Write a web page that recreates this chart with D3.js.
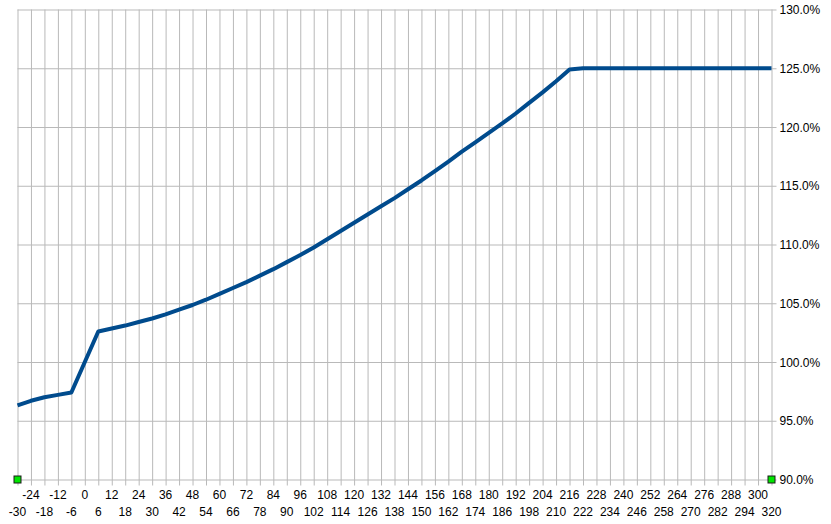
<!DOCTYPE html>
<html>
<head>
<meta charset="utf-8">
<script src="https://cdn.jsdelivr.net/npm/d3@7"></script>
<style>
  html, body { margin: 0; padding: 0; background: #ffffff; }
  svg { display: block; }
  text { font-family: "Liberation Sans", Arial, sans-serif; font-size: 12px; fill: #000; }
</style>
</head>
<body>
<svg id="chart" width="831" height="524"></svg>
<script>
// ---- data ----
const categories = [-30,-24,-18,-12,-6,0,6,12,18,24,30,36,42,48,54,60,66,72,78,84,90,96,102,108,114,120,126,132,138,144,150,156,162,168,174,180,186,192,198,204,210,216,222,228,234,240,246,252,258,264,270,276,282,288,294,300,320];
const seriesValues = [96.3,96.7,97.0,97.2,97.4,100.0,102.6,102.85,103.1,103.4,103.7,104.05,104.45,104.85,105.3,105.8,106.3,106.8,107.35,107.9,108.5,109.1,109.75,110.45,111.15,111.85,112.55,113.25,113.95,114.7,115.45,116.25,117.05,117.9,118.7,119.5,120.3,121.15,122.05,122.95,123.9,124.9,125,125,125,125,125,125,125,125,125,125,125,125,125,125,125];
const markerCategories = [-30, 320];
const markerValues = [90, 90];
const yTicks = [90,95,100,105,110,115,120,125,130];

// ---- layout ----
const svg = d3.select("#chart");
const mLeft = 17.5, mRight = 771.5, mTop = 9.5, mBottom = 479.5;

const x = d3.scalePoint().domain(categories.map(String)).range([mLeft, mRight]);
const y = d3.scaleLinear().domain([90, 130]).range([mBottom, mTop]);

const gridColor = "#b9b9b9";

// vertical grid lines + ticks below
const xAxis = d3.axisBottom(x)
  .tickSize(-(mBottom - mTop))
  .tickFormat(() => "");
const gx = svg.append("g").attr("transform", `translate(0,${mBottom})`).call(xAxis);
gx.select(".domain").remove();
gx.selectAll(".tick line").attr("stroke", gridColor).attr("y1", 6);

// x labels alternating rows
const xl = svg.append("g");
categories.forEach((c, i) => {
  xl.append("text")
    .attr("x", x(String(c)))
    .attr("y", i % 2 === 0 ? 516 : 499)
    .attr("text-anchor", "middle")
    .text(c);
});

// horizontal grid lines + right labels
const yAxis = d3.axisRight(y)
  .tickValues(yTicks)
  .tickSize(-(mRight - mLeft))
  .tickFormat(d => d3.format(".1f")(d) + "%");
const gy = svg.append("g").attr("transform", `translate(${mRight},0)`).call(yAxis);
gy.select(".domain").remove();
gy.selectAll(".tick line").attr("stroke", gridColor).attr("x1", 5);
gy.selectAll(".tick text")
  .attr("x", 8)
  .attr("dy", "0.35em")
  .style("font-family", '"Liberation Sans", Arial, sans-serif')
  .style("font-size", "12px")
  .attr("fill", "#000");

// main line
const line = d3.line()
  .x((d, i) => x(String(categories[i])))
  .y(d => y(d));
svg.append("path")
  .datum(seriesValues)
  .attr("d", line)
  .attr("fill", "none")
  .attr("stroke", "#004b8d")
  .attr("stroke-width", 4)
  .attr("stroke-linejoin", "round")
  .attr("stroke-linecap", "butt");

// markers
svg.append("g").selectAll("rect")
  .data(markerCategories.map((c, i) => ({ c, v: markerValues[i] })))
  .join("rect")
  .attr("x", d => x(String(d.c)) - 3.5)
  .attr("y", d => y(d.v) - 3.5)
  .attr("width", 7)
  .attr("height", 7)
  .attr("fill", "#00e600")
  .attr("stroke", "#1a1a1a")
  .attr("stroke-width", 1);
</script>
</body>
</html>
